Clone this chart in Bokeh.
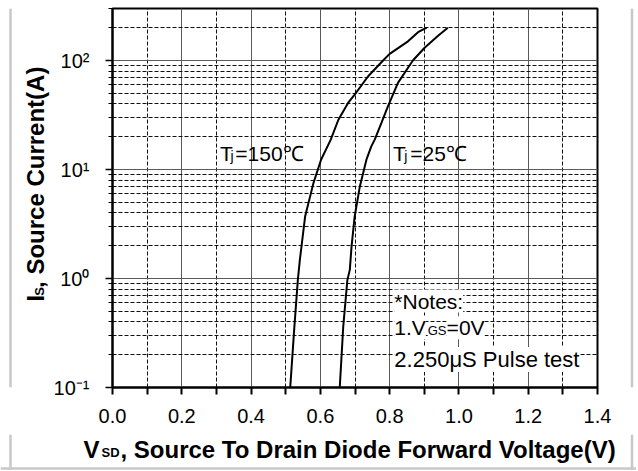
import math
from bokeh.plotting import figure
from bokeh.layouts import row, column
from bokeh.models import (Range1d, FixedTicker, PrintfTickFormatter, Label, Span)
from bokeh.embed import file_html
from bokeh.resources import INLINE

# ---------------- data ----------------
v_150 = [0.513, 0.525, 0.535, 0.541, 0.556, 0.580, 0.602, 0.630, 0.652,
         0.680, 0.699, 0.738, 0.781, 0.800, 0.853, 0.882, 0.907]
i_150 = [0.1, 0.36, 0.97, 1.5, 3.7, 7.5, 12.3, 18.8, 28.6,
         40.8, 48.7, 71.7, 100, 115, 150, 182, 200]

v_25 = [0.656, 0.666, 0.678, 0.685, 0.690, 0.699, 0.714, 0.733, 0.747,
        0.757, 0.776, 0.795, 0.824, 0.867, 0.901, 0.939, 0.968]
i_25 = [0.1, 0.36, 0.97, 1.2, 1.96, 3.7, 7.0, 12.3, 16.3,
        18.8, 26.7, 38, 62.4, 100, 131, 168, 200]

x_ticks = [0.0, 0.2, 0.4, 0.6, 0.8, 1.0, 1.2, 1.4]
x_minor = [0.1, 0.3, 0.5, 0.7, 0.9, 1.1, 1.3]
y_ticks = [0.1, 1, 10, 100]
y_exps = ["-1", "0", "1", "2"]
y_minor = [0.2, 0.3, 0.4, 0.5, 0.6, 0.7, 0.8, 0.9,
           2, 3, 4, 5, 6, 7, 8, 9,
           20, 30, 40, 50, 60, 70, 80, 90,
           200, 300]
x_lo, x_hi = 0.0, 1.4
y_lo, y_hi = 0.1, 300

FONT = "Liberation Sans"
SUP = str.maketrans("-0123456789", "⁻⁰¹²³⁴⁵⁶⁷⁸⁹")
EDGE = "#c8c8c8"

# page geometry (text placement only)
FR_L, FR_R, FR_T, FR_B = 110.0, 597.0, 8.0, 387.0
LEFT_W, MAIN_R, TOP_H, PAGE_W, PAGE_H = 50, 617, 434, 636, 470


def px2x(px):
    return x_lo + (px - FR_L) / (FR_R - FR_L) * (x_hi - x_lo)


# ================= main chart =================
p = figure(width=MAIN_R - LEFT_W, height=TOP_H,
           x_range=Range1d(x_lo, x_hi), y_range=Range1d(y_lo, y_hi),
           y_axis_type="log", output_backend="svg", toolbar_location=None,
           min_border_left=int(FR_L - LEFT_W),
           min_border_right=int(MAIN_R - FR_R),
           min_border_top=int(FR_T), min_border_bottom=int(TOP_H - FR_B))
p.background_fill_color = "white"
p.border_fill_color = "white"
p.outline_line_color = "black"
p.outline_line_width = 2

p.xaxis.ticker = FixedTicker(ticks=x_ticks, minor_ticks=x_minor)
p.xaxis.formatter = PrintfTickFormatter(format="%.1f")
p.xaxis.major_label_text_font = FONT
p.xaxis.major_label_text_font_size = "20px"
p.xaxis.major_label_text_color = "black"
p.xaxis.major_label_standoff = 14
p.xaxis.axis_line_color = "black"
p.xaxis.axis_line_width = 2
p.xaxis.major_tick_in = 0
p.xaxis.major_tick_out = 7
p.xaxis.minor_tick_in = 0
p.xaxis.minor_tick_out = 7
p.xaxis.major_tick_line_width = 2
p.xaxis.minor_tick_line_width = 2
p.xaxis.major_tick_line_color = "black"
p.xaxis.minor_tick_line_color = "black"

p.yaxis.ticker = FixedTicker(ticks=y_ticks, minor_ticks=y_minor)
p.yaxis.major_label_overrides = {t: "10" + e.translate(SUP)
                                 for t, e in zip(y_ticks, y_exps)}
p.yaxis.major_label_text_font = FONT
p.yaxis.major_label_text_font_size = "20px"
p.yaxis.major_label_text_color = "black"
p.yaxis.major_label_standoff = 16
p.yaxis.axis_line_color = "black"
p.yaxis.axis_line_width = 2
p.yaxis.major_tick_in = 0
p.yaxis.major_tick_out = 7
p.yaxis.minor_tick_in = 0
p.yaxis.minor_tick_out = 4
p.yaxis.major_tick_line_width = 1.5
p.yaxis.minor_tick_line_width = 1
p.yaxis.major_tick_line_color = "black"
p.yaxis.minor_tick_line_color = "black"

for g in (p.xgrid, p.ygrid):
    g.grid_line_color = "#5a5a5a"
    g.grid_line_width = 1
    g.minor_grid_line_color = "#111111"
    g.minor_grid_line_width = 1
    g.minor_grid_line_dash = "4 2"

p.line(v_150, i_150, line_color="black", line_width=2)
p.line(v_25, i_25, line_color="black", line_width=2)


def lab(fig, x, y, text, size, xo=0.0, yo=0.0, bold=False, angle=0.0,
        align="left", bg=None):
    kw = {}
    if bg is not None:
        kw["background_fill_color"] = bg
    fig.add_layout(Label(x=x, y=y, text=text, x_offset=xo, y_offset=yo,
                         text_font=FONT, text_font_size=size,
                         text_font_style="bold" if bold else "normal",
                         text_color="black", angle=angle, text_align=align,
                         text_baseline="alphabetic", **kw))


# curve annotations (anchored at I = 10 A, offsets in px)
lab(p, px2x(218), 10, "T", "21px", yo=15.9)
lab(p, px2x(228.5), 10, "j", "14px", yo=13.5)
lab(p, px2x(233.3), 10, "=150℃", "21px", yo=15.9)
lab(p, px2x(391.7), 10, "T", "21px", yo=15.9)
lab(p, px2x(403), 10, "j", "14px", yo=13.5)
lab(p, px2x(409), 10, "=25℃", "21px", yo=15.9)

# notes (anchored at I = 1 A)
N_X = px2x(393)
lab(p, N_X, 1, "*Notes:", "21px", yo=-22.5, bg="white")
lab(p, N_X, 1, "1.V", "21px", yo=-49.2, bg="white")
lab(p, px2x(426.5), 1, "GS", "13px", yo=-52.0, bg="white")
lab(p, px2x(445.5), 1, "=0V", "21px", yo=-49.2, bg="white")
lab(p, N_X, 1, "2.250μS Pulse test", "22px", yo=-81.1, bg="white")


def text_panel(w, h, x0, y0):
    f = figure(width=w, height=h, x_range=Range1d(x0, x0 + w),
               y_range=Range1d(y0 + h, y0), x_axis_location=None,
               y_axis_location=None, output_backend="svg",
               toolbar_location=None, min_border=0,
               min_border_left=0, min_border_right=0,
               min_border_top=0, min_border_bottom=0)
    f.outline_line_color = None
    f.background_fill_color = "white"
    f.border_fill_color = "white"
    f.xgrid.visible = False
    f.ygrid.visible = False
    return f


def edge(fig, loc, dim):
    fig.add_layout(Span(location=loc, dimension=dim, line_color=EDGE,
                        line_width=2.5))


# ================= y-axis title panel =================
left = text_panel(LEFT_W, TOP_H, 0, 0)
edge(left, 10, "height")
lab(left, 35, 335.5, "I", "24px", bold=True, angle=math.pi / 2)
lab(left, 39, 328.8, "S", "13px", bold=True, angle=math.pi / 2)
lab(left, 35, 320.0, ", Source Current(A)", "24px", bold=True,
    angle=math.pi / 2)

# ================= right edge panel =================
right = text_panel(PAGE_W - MAIN_R, TOP_H, MAIN_R, 0)
edge(right, 631.5, "height")

# ================= x-axis title panel =================
bottom = text_panel(PAGE_W, PAGE_H - TOP_H, 0, TOP_H)
edge(bottom, 10, "height")
edge(bottom, 631.5, "height")
edge(bottom, 468, "width")
lab(bottom, 83, 448.6, "V", "24px", bold=True)
lab(bottom, 101, 452.3, "SD", "13px", bold=True)
lab(bottom, 120, 448.6, ", Source To Drain Diode Forward Voltage(V)", "24px",
    bold=True)

layout = column(row(left, p, right, spacing=0), bottom, spacing=0)
open("out.html", "w").write(file_html(layout, INLINE))
